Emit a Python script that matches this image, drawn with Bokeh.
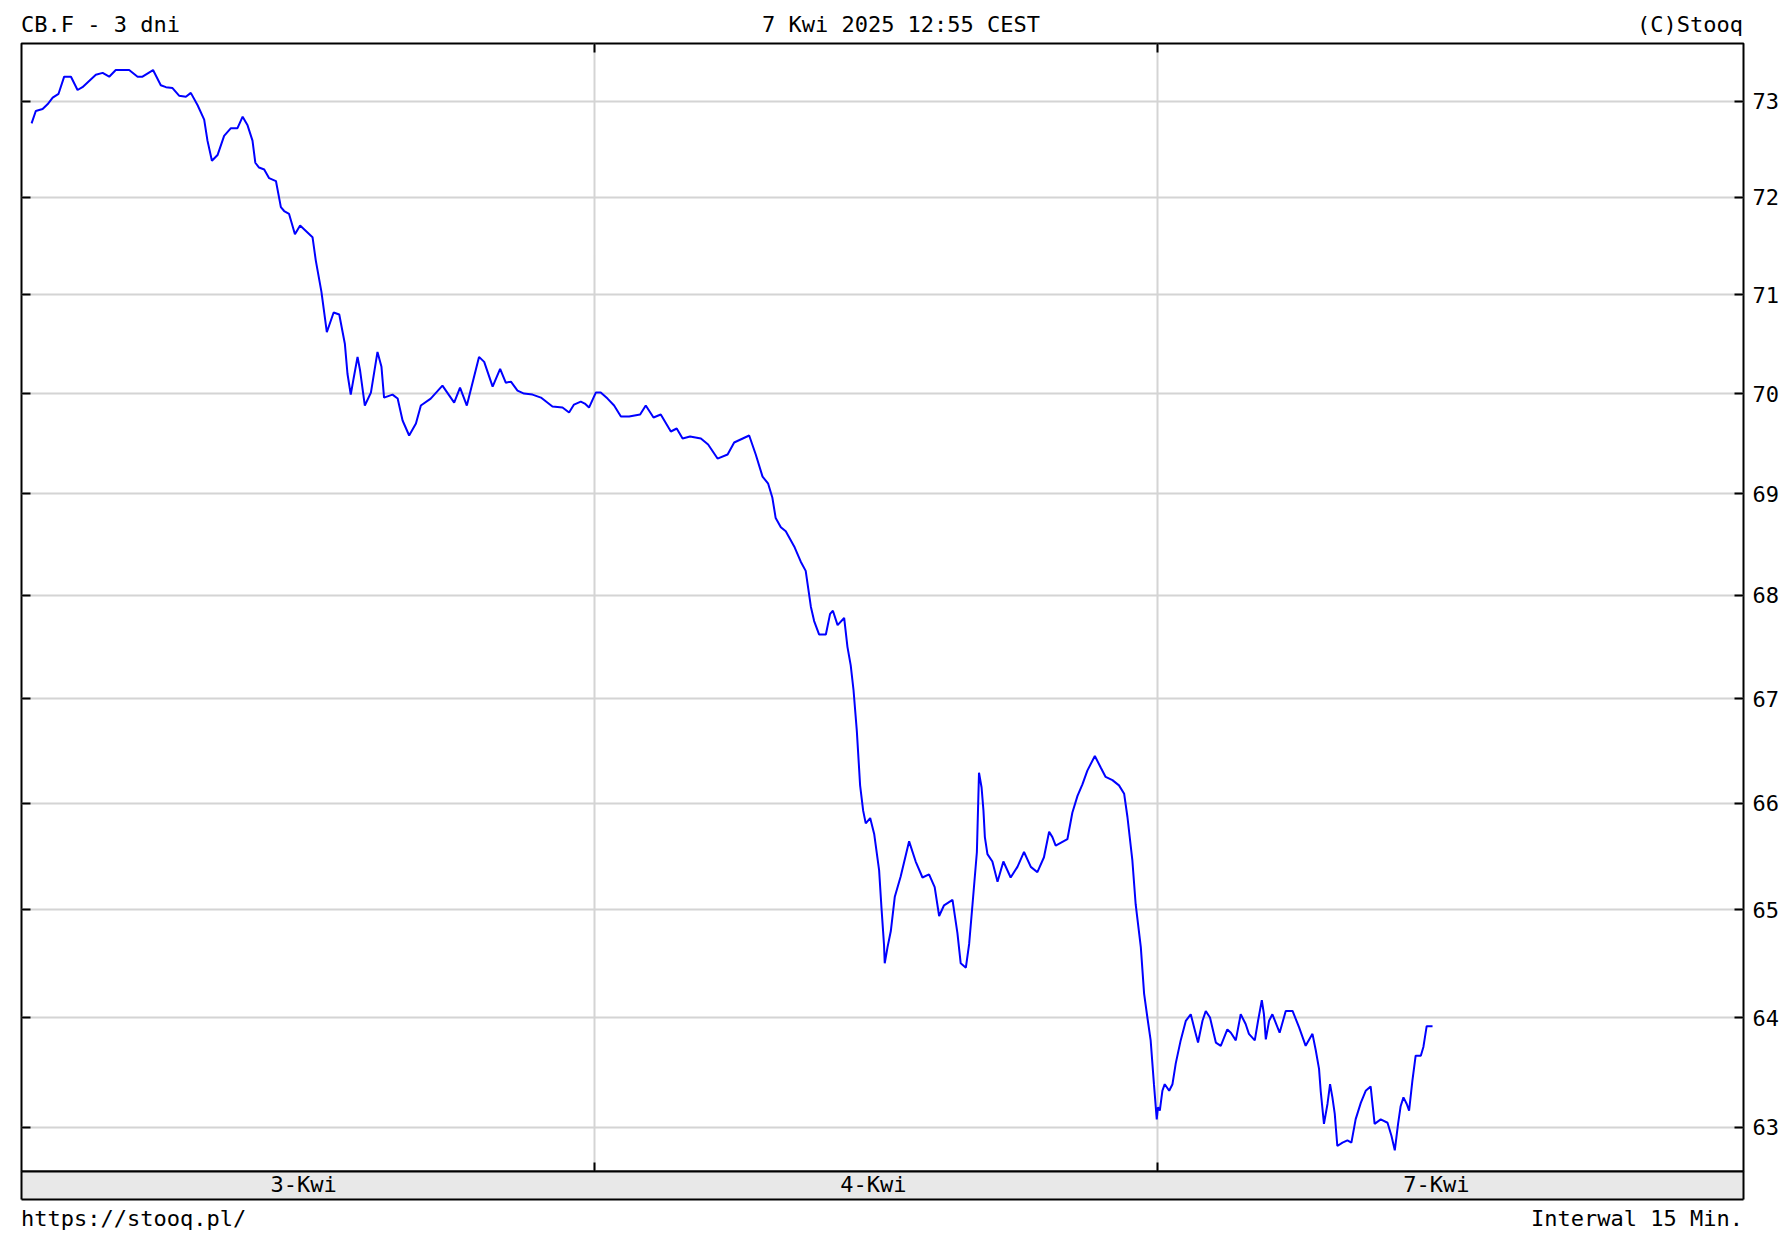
from bokeh.plotting import figure
from bokeh.layouts import column
from bokeh.models import (Range1d, LogAxis, LinearAxis, FixedTicker, Grid, Div,
                          ColumnDataSource, BasicTickFormatter)
from bokeh.embed import file_html
from bokeh.resources import INLINE

# ---- data: CB.F, 15-minute bars, hours counted from 3 Apr 00:00 (trading-day axis) ----
hours = [
    0.00, 0.18, 0.47, 0.68, 0.90, 1.15, 1.39, 1.68, 1.96, 2.17, 2.74, 3.03, 3.31, 3.59, 4.16,
    4.52, 4.73, 5.18, 5.51, 5.73, 6.01, 6.29, 6.58, 6.79, 7.08, 7.36, 7.50, 7.69, 7.93, 8.21,
    8.50, 8.78, 9.00, 9.21, 9.42, 9.54, 9.70, 9.92, 10.13, 10.42, 10.63, 10.77, 10.98, 11.23,
    11.45, 11.98, 12.12, 12.36, 12.45, 12.59, 12.88, 13.12, 13.36, 13.47, 13.61, 13.73, 13.90,
    14.01, 14.21, 14.47, 14.75, 14.92, 15.03, 15.39, 15.61, 15.82, 16.10, 16.39, 16.60, 17.02,
    17.52, 18.02, 18.27, 18.56, 19.08, 19.30, 19.66, 19.98, 20.22, 20.44, 20.72, 21.00, 21.36,
    21.72, 22.21, 22.64, 22.92, 23.13, 23.42, 23.59, 23.77, 24.06, 24.27, 24.56, 24.84, 25.13,
    25.48, 25.95, 26.19, 26.52, 26.83, 27.26, 27.51, 27.76, 28.08, 28.54, 28.85, 29.25, 29.68,
    29.96, 30.60, 30.88, 31.17, 31.41, 31.59, 31.73, 31.95, 32.16, 32.52, 32.80, 33.01, 33.23,
    33.37, 33.58, 33.87, 34.05, 34.17, 34.37, 34.65, 34.79, 34.93, 35.05, 35.19, 35.33, 35.46,
    35.57, 35.76, 35.93, 36.14, 36.24, 36.35, 36.38, 36.50, 36.64, 36.81, 37.06, 37.42, 37.70,
    37.99, 38.27, 38.51, 38.70, 38.91, 39.27, 39.48, 39.62, 39.84, 39.98, 40.12, 40.31, 40.40,
    40.51, 40.59, 40.65, 40.76, 40.97, 41.19, 41.44, 41.75, 42.04, 42.32, 42.61, 42.89, 43.17,
    43.39, 43.53, 43.67, 44.17, 44.38, 44.60, 44.81, 45.02, 45.34, 45.59, 45.80, 46.09, 46.37,
    46.59, 46.73, 46.94, 47.08, 47.30, 47.44, 47.58, 47.72, 47.86, 47.98, 48.03, 48.11, 48.22,
    48.32, 48.51, 48.65, 48.79, 49.00, 49.22, 49.43, 49.57, 49.74, 49.93, 50.07, 50.25, 50.50,
    50.71, 50.99, 51.14, 51.35, 51.56, 51.77, 51.91, 52.16, 52.30, 52.46, 52.55, 52.63, 52.77,
    52.91, 53.13, 53.22, 53.48, 53.77, 54.05, 54.33, 54.62, 54.76, 54.90, 54.97, 55.11, 55.26,
    55.37, 55.47, 55.57, 55.68, 55.90, 56.11, 56.28, 56.46, 56.68, 56.89, 57.10, 57.27, 57.53,
    57.82, 57.99, 58.13, 58.27, 58.38, 58.50, 58.64, 58.74, 58.88, 59.02, 59.24, 59.35, 59.49,
    59.74,
]
close = [
    72.77, 72.90, 72.92, 72.97, 73.04, 73.08, 73.26, 73.26, 73.12, 73.15, 73.28, 73.30, 73.26, 73.33, 73.33,
    73.26, 73.26, 73.33, 73.17, 73.15, 73.14, 73.06, 73.05, 73.09, 72.96, 72.81, 72.59, 72.38, 72.44, 72.64,
    72.72, 72.72, 72.84, 72.75, 72.59, 72.36, 72.31, 72.29, 72.20, 72.17, 71.90, 71.86, 71.83, 71.62,
    71.71, 71.59, 71.35, 71.03, 70.87, 70.62, 70.82, 70.80, 70.50, 70.20, 69.99, 70.15, 70.37,
    70.23, 69.88, 70.01, 70.42, 70.27, 69.96, 69.99, 69.95, 69.73, 69.58, 69.70, 69.88, 69.95,
    70.08, 69.91, 70.06, 69.88, 70.37, 70.32, 70.07, 70.25, 70.11, 70.12, 70.03, 70.00, 69.99,
    69.96, 69.87, 69.86, 69.81, 69.89, 69.92, 69.90, 69.86, 70.01, 70.01, 69.95, 69.88, 69.77,
    69.77, 69.79, 69.88, 69.76, 69.79, 69.62, 69.65, 69.55, 69.57, 69.55, 69.49, 69.35, 69.39,
    69.51, 69.58, 69.39, 69.17, 69.10, 68.96, 68.76, 68.67, 68.63, 68.48, 68.33, 68.24, 67.89,
    67.75, 67.62, 67.62, 67.82, 67.85, 67.71, 67.78, 67.50, 67.32, 67.08, 66.69, 66.17, 65.93,
    65.81, 65.86, 65.71, 65.37, 65.02, 64.67, 64.50, 64.65, 64.80, 65.12, 65.31, 65.64, 65.45,
    65.30, 65.33, 65.21, 64.94, 65.04, 65.09, 64.78, 64.50, 64.46, 64.68, 65.04, 65.54, 66.29,
    66.15, 65.93, 65.68, 65.52, 65.45, 65.26, 65.45, 65.30, 65.40, 65.54, 65.40, 65.35, 65.49,
    65.73, 65.68, 65.60, 65.66, 65.91, 66.07, 66.18, 66.31, 66.45, 66.34, 66.25, 66.22, 66.17,
    66.09, 65.87, 65.46, 65.05, 64.65, 64.22, 64.00, 63.79, 63.39, 63.07, 63.18, 63.15, 63.33,
    63.39, 63.33, 63.39, 63.58, 63.79, 63.97, 64.03, 63.91, 63.77, 63.97, 64.06, 64.00, 63.77,
    63.74, 63.89, 63.86, 63.79, 64.03, 63.94, 63.85, 63.79, 63.97, 64.16, 64.03, 63.80, 63.97,
    64.03, 63.91, 63.86, 64.06, 64.06, 63.91, 63.74, 63.85, 63.70, 63.53, 63.33, 63.03, 63.21,
    63.39, 63.27, 63.12, 62.83, 62.86, 62.88, 62.86, 63.07, 63.22, 63.33, 63.37, 63.03, 63.07,
    63.04, 62.92, 62.79, 63.03, 63.19, 63.27, 63.21, 63.15, 63.42, 63.65, 63.65, 63.73, 63.92,
    63.92,
]
y_ticks = [63, 64, 65, 66, 67, 68, 69, 70, 71, 72, 73]
day_bounds = [24, 48]
day_label_at = [11.6, 35.9, 59.9]
day_labels = ["3-Kwi", "4-Kwi", "7-Kwi"]
title_left = "CB.F - 3 dni"
title_mid = "7 Kwi 2025 12:55 CEST"
title_right = "(C)Stooq"
foot_left = "https://stooq.pl/"
foot_right = "Interwal 15 Min."

X0, X1 = -0.43, 73.0
Y0, Y1 = 62.60, 73.61

FONT = "DejaVu Sans Mono"
FS = "22px"
GRID = "#d4d4d4"
BAND = 28
W = 1785
TOP_H = 36
BOT_H = 36

p = figure(width=W, height=7 + 1128 + 30, output_backend="svg", toolbar_location=None,
           x_range=Range1d(X0, X1), y_range=Range1d(Y0, Y1), y_axis_type="log",
           x_axis_location=None, y_axis_location=None,
           min_border_left=21, min_border_right=W - 21 - 1722, min_border_top=7, min_border_bottom=30,
           outline_line_color="black", outline_line_width=2, outline_line_alpha=1.0,
           background_fill_color="white", border_fill_color="white", margin=(0, 0, 0, 0))
p.center = [r for r in p.center if not isinstance(r, Grid)]

p.add_layout(Grid(dimension=1, ticker=FixedTicker(ticks=y_ticks),
                  grid_line_color=GRID, grid_line_width=2))
p.add_layout(Grid(dimension=0, ticker=FixedTicker(ticks=day_bounds),
                  grid_line_color=GRID, grid_line_width=2))

# right value axis
ry = LogAxis(ticker=FixedTicker(ticks=y_ticks), formatter=BasicTickFormatter(),
             major_tick_in=9, major_tick_out=0, major_tick_line_color="black", major_tick_line_width=2,
             minor_tick_line_color=None, axis_line_color=None,
             major_label_standoff=9, major_label_text_font=FONT, major_label_text_font_size=FS,
             major_label_text_color="black")
p.add_layout(ry, "right")
# left: ticks only
ly = LogAxis(ticker=FixedTicker(ticks=[], minor_ticks=y_ticks),
             major_tick_line_color=None, major_tick_in=0, major_tick_out=0,
             minor_tick_in=9, minor_tick_out=0, minor_tick_line_color="black", minor_tick_line_width=2,
             axis_line_color=None, major_label_standoff=0)
p.add_layout(ly, "left")
# top: ticks at day boundaries
tx = LinearAxis(ticker=FixedTicker(ticks=[], minor_ticks=day_bounds),
                major_tick_line_color=None, major_tick_in=0, major_tick_out=0,
                minor_tick_in=9, minor_tick_out=0, minor_tick_line_color="black", minor_tick_line_width=2,
                axis_line_color=None, major_label_standoff=0)
p.add_layout(tx, "above")
# bottom date band
bx = LinearAxis(ticker=FixedTicker(ticks=day_label_at, minor_ticks=day_bounds),
                major_label_overrides={c: l for c, l in zip(day_label_at, day_labels)},
                major_tick_in=0, major_tick_out=0, major_tick_line_color=None,
                minor_tick_in=9, minor_tick_out=0, minor_tick_line_color="black", minor_tick_line_width=2,
                axis_line_color="black", axis_line_width=2,
                major_label_standoff=0, major_label_text_font=FONT, major_label_text_font_size=FS,
                major_label_text_color="black")
try:
    bx.background_fill_color = "#e8e8e8"
except Exception:
    pass
p.add_layout(bx, "below")
bx2 = LinearAxis(ticker=FixedTicker(ticks=[], minor_ticks=[X0 + 0.01, X1 - 0.01]),
                 major_tick_line_color=None, major_tick_in=0, major_tick_out=0,
                 minor_tick_in=BAND, minor_tick_out=0, minor_tick_line_color="black", minor_tick_line_width=2,
                 axis_line_color="black", axis_line_width=2, major_label_standoff=0)
p.add_layout(bx2, "below")

src = ColumnDataSource(data=dict(hours=hours, close=close))
p.line("hours", "close", source=src, line_color="#0000ff", line_width=2)

SPAN = ("position:absolute;white-space:nowrap;font-family:'DejaVu Sans Mono';"
        "font-size:22px;line-height:22px;color:#000;")

top = Div(width=W, height=TOP_H, margin=(0, 0, 0, 0), text=(
    f'<div style="position:relative;width:{W}px;height:{TOP_H}px;">'
    f'<span style="{SPAN}left:21px;top:14px;">{title_left}</span>'
    f'<span style="{SPAN}left:901px;top:14px;transform:translateX(-50%);">{title_mid}</span>'
    f'<span style="{SPAN}right:{W - 1743}px;top:14px;">{title_right}</span>'
    '</div>'))
bottom = Div(width=W, height=BOT_H, margin=(0, 0, 0, 0), text=(
    f'<div style="position:relative;width:{W}px;height:{BOT_H}px;">'
    f'<span style="{SPAN}left:21px;top:7px;">{foot_left}</span>'
    f'<span style="{SPAN}right:{W - 1743}px;top:7px;">{foot_right}</span>'
    '</div>'))

layout = column(top, p, bottom, spacing=0)
open("out.html", "w").write(file_html(layout, INLINE))
